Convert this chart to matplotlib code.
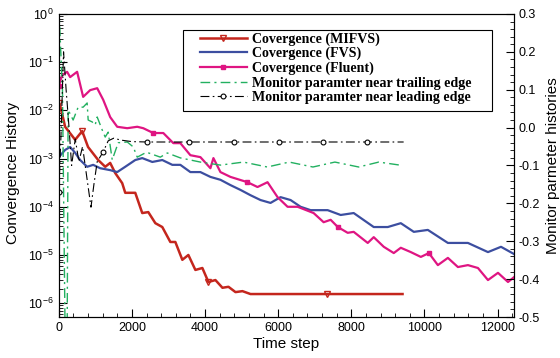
import numpy as np
import matplotlib
matplotlib.use("Agg")
import matplotlib.pyplot as plt
from matplotlib.patches import Rectangle
from matplotlib.ticker import MultipleLocator, FixedLocator, LogLocator, NullFormatter, FormatStrFormatter

plt.rcParams["axes.unicode_minus"] = False
plt.rcParams["font.family"] = ["Liberation Sans", "DejaVu Sans"]
plt.rcParams["mathtext.default"] = "regular"

# convergence histories (time step, log10 of residual)
mifvs_t = [0, 35, 173, 447, 640, 800, 1077, 1270, 1405, 1543, 1734, 1817, 2091, 2282, 2447,
           2640, 2830, 3050, 3187, 3378, 3543, 3735, 3926, 4091, 4283, 4475, 4640, 4832,
           5022, 5242, 6000, 7330, 8500, 9400]
mifvs_log = [-1.85, -1.89, -2.34, -2.61, -2.43, -2.76, -3.03, -3.17, -3.09, -3.30, -3.51, -3.71,
             -3.71, -4.13, -4.11, -4.34, -4.42, -4.73, -4.73, -5.10, -5.00, -5.31, -5.27, -5.56,
             -5.52, -5.68, -5.66, -5.77, -5.75, -5.81, -5.81, -5.81, -5.81, -5.81]

fvs_t = [0, 173, 310, 447, 584, 775, 940, 1132, 1406, 1597, 1817, 2091, 2282, 2556, 2830, 3104,
         3324, 3598, 3872, 4146, 4420, 4694, 4968, 5242, 5516, 5790, 6064, 6338, 6612, 6886,
         7352, 7708, 8064, 8612, 8996, 9352, 9708, 10092, 10640, 11188, 11736, 12092, 12448]
fvs_log = [-2.97, -2.82, -2.76, -2.88, -3.03, -3.17, -3.13, -3.20, -3.24, -3.28, -3.17, -3.03,
           -2.99, -3.07, -3.03, -3.13, -3.13, -3.28, -3.28, -3.38, -3.44, -3.55, -3.65, -3.76,
           -3.86, -3.92, -3.80, -3.86, -4.00, -4.07, -4.07, -4.17, -4.13, -4.42, -4.42, -4.34,
           -4.52, -4.48, -4.75, -4.75, -4.94, -4.83, -4.98]

fluent_t = [0, 90, 227, 310, 501, 666, 858, 1050, 1214, 1406, 1597, 1871, 2145, 2310, 2584,
            2858, 3132, 3324, 3598, 3872, 4146, 4228, 4420, 4694, 5160, 5434, 5708, 5982, 6256,
            6530, 6968, 7242, 7434, 7630, 7900, 8064, 8448, 8612, 8886, 9160, 9352, 9626, 9900,
            10120, 10366, 10640, 10914, 11188, 11462, 11736, 12010, 12284, 12448]
fluent_log = [-1.49, -1.27, -1.20, -1.31, -1.20, -1.72, -1.58, -1.54, -1.78, -2.14, -2.34, -2.37,
              -2.34, -2.37, -2.47, -2.47, -2.68, -2.68, -2.93, -2.97, -3.20, -2.99, -3.28, -3.38,
              -3.49, -3.59, -3.49, -3.80, -4.00, -4.00, -4.13, -4.32, -4.27, -4.42, -4.54, -4.52,
              -4.75, -4.63, -4.83, -4.96, -4.85, -4.94, -5.04, -4.96, -5.21, -5.06, -5.25, -5.21,
              -5.27, -5.52, -5.37, -5.56, -5.46]

# monitor parameters (right axis)
trail_t = [0, 100, 170, 230, 255, 392, 529, 666, 775, 803, 913, 995, 1050, 1186, 1269, 1351,
           1461, 1625, 1872, 2036, 2145, 2400, 2776, 2968, 3324, 3872, 4420, 5050, 5700, 6300,
           6950, 7550, 8200, 8750, 9400]
trail_val = [0.32, 0.10, -0.52, -0.52, 0.047, 0.020, 0.054, 0.054, 0.065, 0.020, 0.015, 0.007,
             0.028, -0.006, -0.025, -0.012, -0.085, -0.040, -0.038, -0.051, -0.078, -0.065,
             -0.078, -0.067, -0.080, -0.091, -0.099, -0.091, -0.104, -0.091, -0.104, -0.091,
             -0.104, -0.091, -0.100]

lead_t = [0, 60, 130, 200, 280, 350, 450, 550, 650, 750, 880, 960, 1050, 1214, 1350, 1500, 1700,
          2000, 2420, 3570, 4780, 6010, 7222, 8427, 9430]
lead_val = [-0.17, -0.02, 0.20, 0.10, 0.0, -0.10, -0.03, -0.09, -0.05, -0.12, -0.21, -0.15,
            -0.09, -0.064, -0.035, -0.028, -0.033, -0.037, -0.038, -0.038, -0.038, -0.038,
            -0.038, -0.038, -0.038]

mifvs_marks = [0, 640, 4091, 7330]
fluent_marks = [0, 2584, 5160, 7630, 10120]
lead_marks = [0, 1214, 2420, 3570, 4780, 6010, 7222, 8427]

log_ticks = [1e-6, 1e-5, 1e-4, 1e-3, 1e-2, 1e-1, 1]
labels = ["Covergence (MIFVS)", "Covergence (FVS)", "Covergence (Fluent)",
          "Monitor paramter near trailing edge", "Monitor paramter near leading edge"]


def mark_idx(ts, marks):
    return [int(np.argmin(np.abs(np.array(ts) - m))) for m in marks]


fig = plt.figure(figsize=(5.6, 3.58), dpi=100)
ax = fig.add_axes([0.105, 0.1145, 0.813, 0.8465])
ax2 = ax.twinx()

red, blue, pink, green = "#c4261d", "#3c4ea0", "#df1582", "#22b060"

l1, = ax.plot(mifvs_t, 10 ** np.array(mifvs_log), color=red, lw=1.8, marker="v", ms=4,
              mfc="none", mec=red, markevery=mark_idx(mifvs_t, mifvs_marks))
l2, = ax.plot(fvs_t, 10 ** np.array(fvs_log), color=blue, lw=1.6)
l3, = ax.plot(fluent_t, 10 ** np.array(fluent_log), color=pink, lw=1.6, marker="s", ms=3,
              markevery=mark_idx(fluent_t, fluent_marks))
l4, = ax2.plot(trail_t, trail_val, color=green, lw=1.0, dashes=(7, 3, 1.5, 3))
l5, = ax2.plot(lead_t, lead_val, color="black", lw=0.8, dashes=(8, 3, 1.5, 3), marker="o",
               ms=3.5, mfc="white", mec="black", mew=0.8, markevery=mark_idx(lead_t, lead_marks))

ax.set_yscale("log")
ax.set_ylim(5.17e-7, 1)
ax.set_xlim(0, 12450)
ax2.set_ylim(-0.5, 0.3)

ax.xaxis.set_major_locator(MultipleLocator(2000))
ax.xaxis.set_minor_locator(MultipleLocator(400))
ax.yaxis.set_major_locator(FixedLocator(log_ticks))
ax.yaxis.set_minor_locator(LogLocator(base=10, subs=np.arange(2, 10), numticks=10))
ax.yaxis.set_minor_formatter(NullFormatter())
ax2.yaxis.set_major_locator(MultipleLocator(0.1))
ax2.yaxis.set_minor_locator(MultipleLocator(0.02))
ax2.yaxis.set_major_formatter(FormatStrFormatter("%.1f"))

ax.tick_params(which="both", direction="in", top=False, right=False, labelsize=9)
ax.tick_params(which="major", length=6)
ax.tick_params(which="minor", length=3)
ax2.tick_params(which="both", direction="in", labelsize=9)
ax2.tick_params(which="major", length=6)
ax2.tick_params(which="minor", length=3)

ax.set_xlabel("Time step", fontsize=11, labelpad=2)
ax.set_ylabel("Convergence History", fontsize=11)
ax.yaxis.set_label_coords(-0.085, 0.475)
ax2.set_ylabel("Monitor parmeter histories", fontsize=11)

# legend frame drawn separately (wider than the text)
ax2.add_patch(Rectangle((0.273, 0.68), 0.679, 0.267, transform=ax2.transAxes,
                        facecolor="white", edgecolor="black", lw=0.8, zorder=4))
leg = ax2.legend([l1, l2, l3, l4, l5], labels,
                 loc="upper left", bbox_to_anchor=(0.305, 0.947), borderaxespad=0,
                 prop={"family": "Liberation Serif", "weight": "bold", "size": 10.1},
                 frameon=False, handlelength=3.35, labelspacing=0.1, borderpad=0.15,
                 handletextpad=0.35)
leg.set_zorder(5)

fig.savefig("out.png", dpi=100)
